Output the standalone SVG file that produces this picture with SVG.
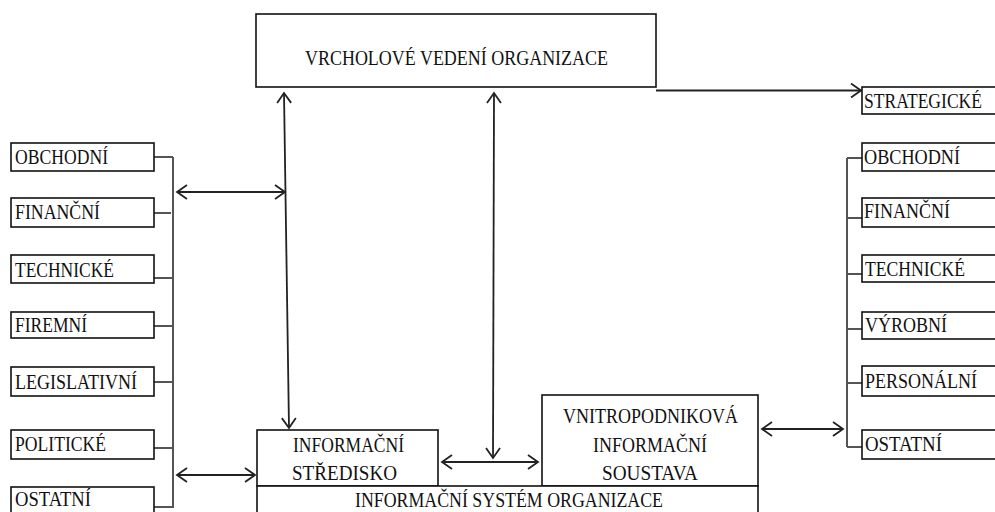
<svg xmlns="http://www.w3.org/2000/svg" width="995" height="512" viewBox="0 0 995 512">
<defs>
<marker id="ah" markerUnits="userSpaceOnUse" markerWidth="14" markerHeight="16" refX="11" refY="8" orient="auto-start-reverse">
<path d="M1,1 L11,8 L1,15" fill="none" stroke="#222" stroke-width="1.8"/>
</marker>
</defs>
<style>
.box{fill:#fff;stroke:#111;stroke-width:1.6}
.br{fill:none;stroke:#555;stroke-width:2}
.ar{fill:none;stroke:#222;stroke-width:1.8}
</style>
<rect width="995" height="512" fill="#fff"/>

<g id="connectors">
<path class="br" d="M173,157 V508 M154,157 H173 M154,213 H171 M154,278 H173 M154,326 H173 M154,382 H173 M154,448 H173 M154,507 H173"/>
<path class="br" d="M847,158 V447 M847,158 H862 M847,218 H862 M847,274 H862 M847,329 H862 M847,383 H862 M847,447 H862"/>
<line class="ar" x1="656" y1="90.5" x2="861" y2="90.5" marker-end="url(#ah)"/>
<line class="ar" x1="177" y1="192" x2="285" y2="192" marker-start="url(#ah)" marker-end="url(#ah)"/>
<line class="ar" x1="177" y1="475" x2="255" y2="475" marker-start="url(#ah)" marker-end="url(#ah)"/>
<line class="ar" x1="284" y1="93" x2="289" y2="428" marker-start="url(#ah)" marker-end="url(#ah)"/>
<line class="ar" x1="494" y1="93" x2="493" y2="458" marker-start="url(#ah)" marker-end="url(#ah)"/>
<line class="ar" x1="442" y1="462" x2="538" y2="462" marker-start="url(#ah)" marker-end="url(#ah)"/>
<line class="ar" x1="762" y1="429" x2="843" y2="429" marker-start="url(#ah)" marker-end="url(#ah)"/>
</g>

<g font-family="Liberation Serif, serif" font-size="20" fill="#111">
<g id="vrcholove">
<rect class="box" x="256" y="14" width="400" height="73"/>
<text x="305" y="65" textLength="303" lengthAdjust="spacingAndGlyphs">VRCHOLOVÉ VEDENÍ ORGANIZACE</text>
</g>

<g id="strategicke">
<rect class="box" x="862" y="87" width="140" height="27"/>
<text x="864" y="108" textLength="118" lengthAdjust="spacingAndGlyphs">STRATEGICKÉ</text>
</g>

<g id="l-obchodni"><rect class="box" x="11" y="143" width="143" height="28"/><text x="15" y="164" textLength="93" lengthAdjust="spacingAndGlyphs">OBCHODNÍ</text></g>
<g id="l-financni"><rect class="box" x="11" y="198" width="143" height="29"/><text x="15" y="219" textLength="85" lengthAdjust="spacingAndGlyphs">FINANČNÍ</text></g>
<g id="l-technicke"><rect class="box" x="11" y="255" width="143" height="28"/><text x="15" y="277" textLength="99" lengthAdjust="spacingAndGlyphs">TECHNICKÉ</text></g>
<g id="l-firemni"><rect class="box" x="11" y="312" width="143" height="26"/><text x="15" y="332" textLength="72" lengthAdjust="spacingAndGlyphs">FIREMNÍ</text></g>
<g id="l-legislativni"><rect class="box" x="11" y="367" width="143" height="29"/><text x="15" y="389" textLength="122" lengthAdjust="spacingAndGlyphs">LEGISLATIVNÍ</text></g>
<g id="l-politicke"><rect class="box" x="11" y="430" width="143" height="29"/><text x="15" y="451" textLength="91" lengthAdjust="spacingAndGlyphs">POLITICKÉ</text></g>
<g id="l-ostatni"><rect class="box" x="11" y="487" width="143" height="30"/><text x="15" y="506" textLength="76" lengthAdjust="spacingAndGlyphs">OSTATNÍ</text></g>

<g id="r-obchodni"><rect class="box" x="862" y="143" width="140" height="28"/><text x="864" y="164" textLength="96" lengthAdjust="spacingAndGlyphs">OBCHODNÍ</text></g>
<g id="r-financni"><rect class="box" x="862" y="198" width="140" height="29"/><text x="864" y="218" textLength="86" lengthAdjust="spacingAndGlyphs">FINANČNÍ</text></g>
<g id="r-technicke"><rect class="box" x="862" y="255" width="140" height="27"/><text x="865" y="276" textLength="100" lengthAdjust="spacingAndGlyphs">TECHNICKÉ</text></g>
<g id="r-vyrobni"><rect class="box" x="862" y="312" width="140" height="27"/><text x="865" y="332" textLength="82" lengthAdjust="spacingAndGlyphs">VÝROBNÍ</text></g>
<g id="r-personalni"><rect class="box" x="862" y="366" width="140" height="30"/><text x="865" y="388" textLength="112" lengthAdjust="spacingAndGlyphs">PERSONÁLNÍ</text></g>
<g id="r-ostatni"><rect class="box" x="862" y="430" width="140" height="29"/><text x="865" y="451" textLength="77" lengthAdjust="spacingAndGlyphs">OSTATNÍ</text></g>

<g id="informacni-stredisko">
<rect class="box" x="257" y="430" width="181" height="56"/>
<text x="293" y="452" textLength="111" lengthAdjust="spacingAndGlyphs">INFORMAČNÍ</text>
<text x="292" y="480" textLength="105" lengthAdjust="spacingAndGlyphs">STŘEDISKO</text>
</g>

<g id="vnitropodnikova">
<rect class="box" x="542" y="395" width="216" height="91"/>
<text x="563" y="423" textLength="175" lengthAdjust="spacingAndGlyphs">VNITROPODNIKOVÁ</text>
<text x="593" y="452" textLength="114" lengthAdjust="spacingAndGlyphs">INFORMAČNÍ</text>
<text x="602" y="480" textLength="96" lengthAdjust="spacingAndGlyphs">SOUSTAVA</text>
</g>

<g id="informacni-system">
<rect class="box" x="257" y="486" width="501" height="40"/>
<text x="355" y="507" textLength="308" lengthAdjust="spacingAndGlyphs">INFORMAČNÍ SYSTÉM ORGANIZACE</text>
</g>
</g>
</svg>
